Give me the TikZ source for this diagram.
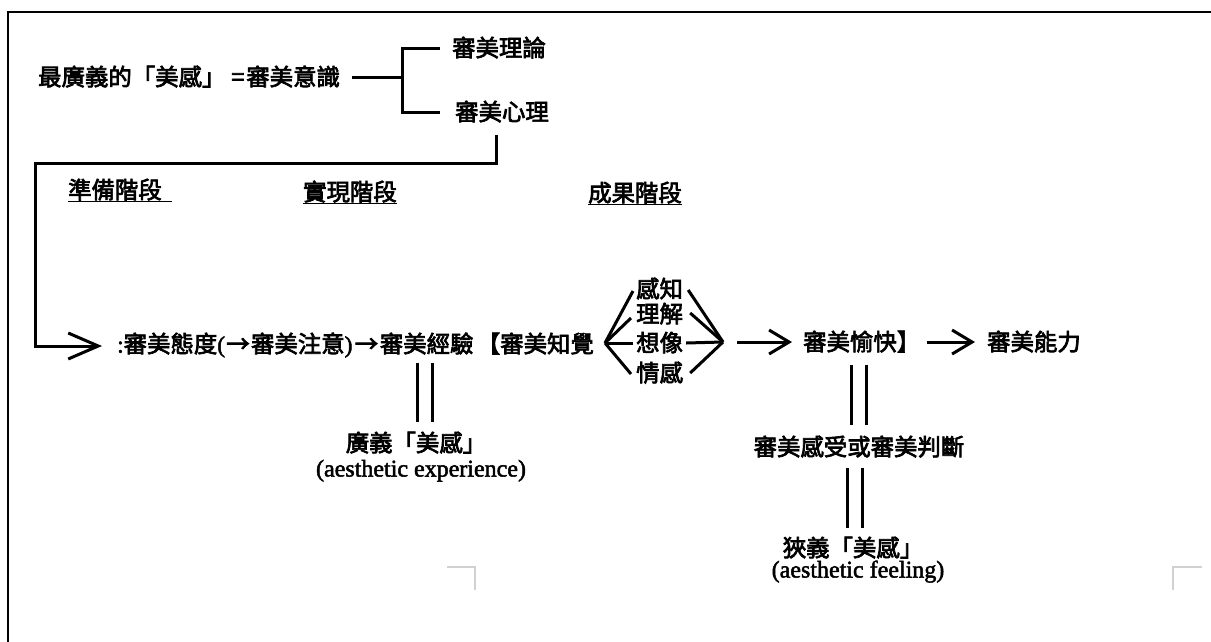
\documentclass[tikz,border=0pt]{standalone}
\usepackage{fontspec}
\setmainfont{Liberation Serif}[FakeBold=2]
\newfontfamily\cjk{Noto Sans CJK TC}[FakeBold=3]
\newcommand\myarr{\makebox[26pt]{→}}
\usetikzlibrary{arrows.meta}
\begin{document}
\begin{tikzpicture}[x=1pt,y=-1pt,
  txt/.style={font=\cjk\fontsize{23.4}{26}\selectfont, inner sep=0pt, text height=19pt, text depth=2pt},
  lat/.style={font=\rmfamily\fontsize{24}{28}\selectfont, inner sep=0pt, text height=16pt, text depth=5pt},
  conn/.style={line width=3pt},
  dbl/.style={double distance=12pt, line width=3pt},
  uline/.style={line width=1.5pt},
  bigbarb/.style={-{Straight Barb[length=30pt,width=26pt]}},
  smallbarb/.style={-{Straight Barb[length=20pt,width=24pt]}},
  framestyle/.style={line width=2.5pt},
  cornermark/.style={draw=black!18, line width=2pt}
]
\useasboundingbox (0,0) rectangle (1211,641);

% outer frame and faint corner marks
\draw[framestyle] (8,645) -- (8,12) -- (1215,12);
\draw[cornermark] (447,567) -- (475,567) -- (475,590);
\draw[cornermark] (1202,567) -- (1173,567) -- (1173,590);

% top part
\node[txt, anchor=west] (top) at (38,77) {最廣義的「美感」\hspace{6pt}=\hspace{2pt}審美意識};
\node[txt, anchor=west] (theory) at (452,48) {審美理論};
\node[txt, anchor=west] (psych) at (455,112) {審美心理};
\coordinate (bj) at (402,77);
\draw[conn] ([xshift=12pt]top.east) -- (bj);
\draw[conn] ([xshift=-12pt]theory.west) -| (bj) |- ([xshift=-15pt]psych.west);

% stage headings
\node[txt, anchor=west] (prep) at (68,190) {準備階段};
\node[txt, anchor=west] (real) at (303,192) {實現階段};
\node[txt, anchor=west] (res) at (588,193) {成果階段};
\draw[uline] ([yshift=-1pt]prep.south west) -- ([xshift=10pt,yshift=-1pt]prep.south east);
\draw[uline] ([yshift=-1pt]real.south west) -- ([yshift=-1pt]real.south east);
\draw[uline] ([yshift=-1pt]res.south west) -- ([yshift=-1pt]res.south east);

% main row
\node[txt, anchor=west] (att) at (117,344) {{\rmfamily :}審美態度{\rmfamily (}\myarr 審美注意{\rmfamily )}\hspace{1pt}\myarr\hspace{1pt}};
\node[txt, anchor=base west] (exp) at (att.base east) {審美經驗};
\node[txt, anchor=base west] (perc) at ([xshift=3pt]exp.base east) {【審美知覺};

% connector from 審美心理 down to the main row
\coordinate (c1) at (496,163);
\coordinate (c2) at (35,163);
\coordinate (c3) at (35,346);
\draw[conn, bigbarb, shorten >=15pt] ([yshift=-12pt]psych.south -| c1) -- (c1) -- (c2) -- (c3) -- (c3 -| att.west);

% fan of four faculties
\coordinate (fl) at (605,343);
\coordinate (fr) at (723,342);
\node[txt, anchor=west] (k1) at (636,289) {感知};
\node[txt, anchor=west] (k2) at (636,314) {理解};
\node[txt, anchor=west] (k3) at (636,343) {想像};
\node[txt, anchor=west] (k4) at (636,373) {情感};
\draw[conn] (fl) -- ([xshift=-3pt,yshift=-2pt]k1.west);
\draw[conn] (fl) -- ([xshift=-5pt,yshift=-4pt]k2.west);
\draw[conn] (fl) -- ([xshift=-3pt]k3.west);
\draw[conn] (fl) -- ([xshift=-5pt,yshift=-1pt]k4.west);
\draw[conn] ([xshift=5pt,yshift=-1pt]k1.east) -- (fr);
\draw[conn] ([xshift=7pt,yshift=1pt]k2.east) -- (fr);
\draw[conn] ([xshift=3pt]k3.east) -- (fr);
\draw[conn] ([xshift=7pt,yshift=0pt]k4.east) -- (fr);

% results
\node[txt, anchor=west] (pleas) at (803,342) {審美愉快】};
\node[txt, anchor=west] (abil) at (987,342) {審美能力};
\draw[conn, smallbarb] ([xshift=14pt]fr) -- ([xshift=-11pt]pleas.west);
\draw[conn, smallbarb] ([xshift=7pt]pleas.east) -- ([xshift=-12pt]abil.west);

% broad aesthetic sense
\node[txt] (broad) at (416,443) {廣義「美感」};
\node[lat] (broaden) at (421,471) {(aesthetic experience)};
\draw[dbl, shorten <=10pt, shorten >=8pt] ([xshift=9pt]broad.north) -- ([xshift=9pt]broad.north |- exp.south);

% judgement and narrow sense
\node[txt] (judg) at (859,447) {審美感受或審美判斷};
\node[txt] (narrow) at (853,548) {狹義「美感」};
\node[lat] (narrowen) at (858,572) {(aesthetic feeling)};
\draw[dbl] ([xshift=-3pt,yshift=-12pt]pleas.south) -- ([xshift=-3pt,yshift=11pt]pleas.south |- judg.north);
\draw[dbl] ([xshift=-4pt,yshift=-10pt]judg.south) -- ([xshift=-4pt,yshift=9pt]judg.south |- narrow.north);
\end{tikzpicture}
\end{document}
